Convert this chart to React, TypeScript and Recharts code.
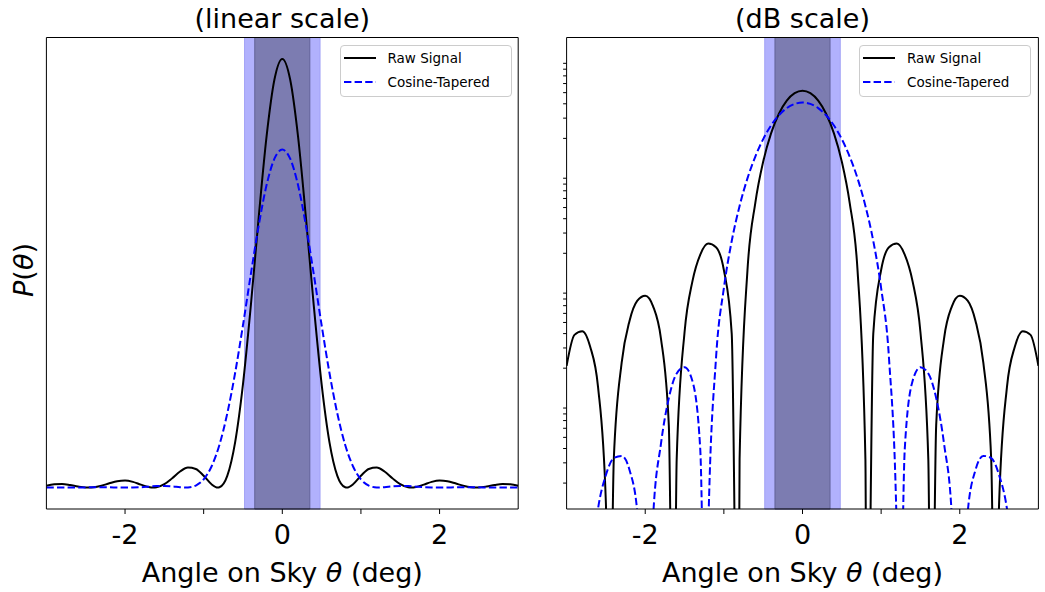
import { LineChart, Line, XAxis, YAxis, ReferenceArea } from "recharts";

const FONT = "'DejaVu Sans', sans-serif";

// Angle on sky (deg) for the raw beam, with its nulls included
const RAW_THETA = [
  -3.0, -2.9, -2.8, -2.7, -2.6, -2.5, -2.46, -2.4, -2.3, -2.2, -2.1, -2.0, -1.9, -1.8, -1.7, -1.64,
  -1.6, -1.5, -1.4, -1.3, -1.2, -1.1, -1.0, -0.9, -0.82, -0.8, -0.7, -0.6, -0.5, -0.4, -0.3, -0.2, -0.1,
  0,
  0.1, 0.2, 0.3, 0.4, 0.5, 0.6, 0.7, 0.8, 0.82, 0.9, 1.0, 1.1, 1.2, 1.3, 1.4, 1.5, 1.6, 1.64, 1.7,
  1.8, 1.9, 2.0, 2.1, 2.2, 2.3, 2.4, 2.46, 2.5, 2.6, 2.7, 2.8, 2.9, 3.0,
];
// Raw beam power P(θ); 1e-6 stands in for a null so the log axis stays finite
const RAW_POWER = [
  0.0021, 0.0039, 0.0042, 0.00307, 0.00137, 1.32e-4, 1e-6, 3.19e-4, 0.00222, 0.00516, 0.00774,
  0.00854, 0.00691, 0.00362, 6.36e-4, 1e-6, 3.23e-4, 0.00411, 0.0114, 0.0195, 0.0243, 0.0226, 0.0143,
  0.00398, 1e-6, 3.24e-4, 0.0142, 0.0549, 0.1255, 0.221, 0.328, 0.426, 0.495,
  0.52,
  0.495, 0.426, 0.328, 0.221, 0.1255, 0.0549, 0.0142, 3.24e-4, 1e-6, 0.00398, 0.0143, 0.0226, 0.0243,
  0.0195, 0.0114, 0.00411, 3.23e-4, 1e-6, 6.36e-4, 0.00362, 0.00691, 0.00854, 0.00774, 0.00516,
  0.00222, 3.19e-4, 1e-6, 1.32e-4, 0.00137, 0.00307, 0.0042, 0.0039, 0.0021,
];

// Angle on sky (deg) for the cosine-tapered beam
const TAPER_THETA = [
  -3.0, -2.9, -2.8, -2.76, -2.7, -2.6, -2.5, -2.4, -2.3, -2.2, -2.1, -2.0, -1.9, -1.8, -1.7, -1.6,
  -1.5, -1.4, -1.3, -1.22, -1.2, -1.1, -1.0, -0.9, -0.8, -0.7, -0.6, -0.5, -0.4, -0.3, -0.2, -0.1,
  0,
  0.1, 0.2, 0.3, 0.4, 0.5, 0.6, 0.7, 0.8, 0.9, 1.0, 1.1, 1.2, 1.22, 1.3, 1.4, 1.5, 1.6, 1.7, 1.8,
  1.9, 2.0, 2.1, 2.2, 2.3, 2.4, 2.5, 2.6, 2.7, 2.76, 2.8, 2.9, 3.0,
];
const TAPER_POWER = [
  3.8e-5, 2.2e-5, 5e-6, 1e-6, 3e-5, 1.2e-4, 2.35e-4, 3.3e-4, 3.45e-4, 2.6e-4, 1.1e-4, 1e-6, 1.0e-4,
  4.4e-4, 0.0011, 0.0018, 0.00204, 0.00155, 3.9e-4, 1e-6, 7e-5, 0.00244, 0.00996, 0.0256, 0.0517,
  0.0898, 0.139, 0.197, 0.259, 0.318, 0.367, 0.399,
  0.41,
  0.399, 0.367, 0.318, 0.259, 0.197, 0.139, 0.0898, 0.0517, 0.0256, 0.00996, 0.00244, 7e-5, 1e-6,
  3.9e-4, 0.00155, 0.00204, 0.0018, 0.0011, 4.4e-4, 1.0e-4, 1e-6, 1.1e-4, 2.6e-4, 3.45e-4, 3.3e-4,
  2.35e-4, 1.2e-4, 3e-5, 1e-6, 5e-6, 2.2e-5, 3.8e-5,
];

const X_TICKS = [-2, -1, 0, 1, 2];
// minor ticks of the log axis (2..9 in every decade)
const LOG_TICKS = [
  0.0002, 0.0003, 0.0004, 0.0005, 0.0006, 0.0007, 0.0008, 0.0009,
  0.002, 0.003, 0.004, 0.005, 0.006, 0.007, 0.008, 0.009,
  0.02, 0.03, 0.04, 0.05, 0.06, 0.07, 0.08, 0.09,
  0.2, 0.3, 0.4, 0.5, 0.6, 0.7, 0.8, 0.9,
];

// shaded windows around boresight (deg)
const OUTER_BAND = [-0.48, 0.48];
const INNER_BAND = [-0.35, 0.35];

const rawData = RAW_THETA.map((theta, i) => ({ theta, p: RAW_POWER[i] }));
const taperData = TAPER_THETA.map((theta, i) => ({ theta, p: TAPER_POWER[i] }));

const SERIES = [
  { key: "raw", name: "Raw Signal", color: "#000000", dash: undefined as string | undefined, data: rawData },
  { key: "taper", name: "Cosine-Tapered", color: "#0000ff", dash: "7.4 3.2", data: taperData },
];

const HEIGHT = 592;
const PLOT_TOP = 37.5;
const PLOT_BOTTOM = 509;

function LegendBox({ left }: { left: number }) {
  return (
    <div
      style={{
        position: "absolute",
        left,
        top: 45,
        width: 172,
        height: 52,
        boxSizing: "border-box",
        border: "1px solid #cccccc",
        borderRadius: 4,
        background: "rgba(255,255,255,0.85)",
        fontFamily: FONT,
        fontSize: 13.5,
        color: "#000",
      }}
    >
      {SERIES.map((s, i) => (
        <div
          key={s.key}
          style={{
            position: "absolute",
            left: 2,
            top: 0.6 + i * 23.4,
            height: 23.4,
            display: "flex",
            alignItems: "center",
          }}
        >
          <svg width={34} height={6}>
            <line x1={1} y1={3} x2={33} y2={3} stroke={s.color} strokeWidth={2} strokeDasharray={s.dash} />
          </svg>
          <span style={{ marginLeft: 11, whiteSpace: "nowrap" }}>{s.name}</span>
        </div>
      ))}
    </div>
  );
}

function BeamPanel({
  width,
  left,
  plotLeft,
  plotRight,
  log,
}: {
  width: number;
  left: number;
  plotLeft: number;
  plotRight: number;
  log: boolean;
}) {
  const axisStroke = { stroke: "#000", strokeWidth: 1 };
  // the frame axes are 1px wide, so the margins sit 1px outside the plot box
  return (
    <div style={{ position: "absolute", left, top: 0 }}>
      <LineChart
        width={width}
        height={HEIGHT}
        margin={{ top: PLOT_TOP - 1, right: width - plotRight - 1, bottom: 0, left: plotLeft - 1 }}
      >
        <ReferenceArea
          x1={OUTER_BAND[0]}
          x2={OUTER_BAND[1]}
          fill="#b1b1fd"
          fillOpacity={1}
          stroke="#a2a2f6"
          strokeWidth={1}
        />
        <ReferenceArea
          x1={INNER_BAND[0]}
          x2={INNER_BAND[1]}
          fill="#7c7cb1"
          fillOpacity={1}
          stroke="#626298"
          strokeWidth={1}
        />
        <XAxis
          dataKey="theta"
          type="number"
          domain={[-3, 3]}
          allowDataOverflow
          ticks={X_TICKS}
          interval={0}
          tickFormatter={(v: number) => (v % 2 === 0 ? String(v) : "")}
          height={HEIGHT - PLOT_BOTTOM}
          tickSize={5}
          tickMargin={11}
          tick={{ fontSize: 27, fill: "#000", fontFamily: FONT }}
          axisLine={axisStroke}
          tickLine={axisStroke}
        />
        <XAxis
          xAxisId="top"
          orientation="top"
          type="number"
          domain={[-3, 3]}
          height={1}
          tick={false}
          tickLine={false}
          axisLine={axisStroke}
        />
        {log ? (
          <YAxis
            type="number"
            scale="log"
            domain={[1.19e-4, 1.51]}
            allowDataOverflow
            ticks={LOG_TICKS}
            interval={0}
            width={1}
            tickSize={3.5}
            tickFormatter={() => ""}
            tick={{ fontSize: 1, fill: "none" }}
            tickLine={axisStroke}
            axisLine={axisStroke}
          />
        ) : (
          <YAxis
            type="number"
            domain={[-0.026, 0.546]}
            allowDataOverflow
            width={1}
            tick={false}
            tickLine={false}
            axisLine={axisStroke}
          />
        )}
        <YAxis
          yAxisId="right"
          orientation="right"
          type="number"
          domain={[0, 1]}
          width={1}
          tick={false}
          tickLine={false}
          axisLine={axisStroke}
        />
        {SERIES.map((s) => (
          <Line
            key={s.key}
            name={s.name}
            data={s.data}
            dataKey="p"
            type="monotone"
            stroke={s.color}
            strokeWidth={2}
            strokeDasharray={s.dash}
            dot={false}
            activeDot={false}
            isAnimationActive={false}
          />
        ))}
      </LineChart>
    </div>
  );
}

export default function App() {
  const textStyle = { fontFamily: FONT, fontSize: 27, fill: "#000" };
  return (
    <div
      style={{
        position: "absolute",
        left: 0,
        top: 0,
        width: 1045,
        height: HEIGHT,
        background: "#fff",
        overflow: "hidden",
      }}
    >
      <BeamPanel width={530} left={0} plotLeft={46.4} plotRight={518.2} log={false} />
      <BeamPanel width={515} left={530} plotLeft={36.6} plotRight={508.4} log />

      <LegendBox left={339.5} />
      <LegendBox left={859} />

      <svg
        width={1045}
        height={HEIGHT}
        style={{ position: "absolute", left: 0, top: 0, pointerEvents: "none" }}
      >
        <text x={282.3} y={27.5} textAnchor="middle" style={textStyle}>
          (linear scale)
        </text>
        <text x={802.5} y={27.5} textAnchor="middle" style={textStyle}>
          (dB scale)
        </text>
        <text x={282.3} y={582} textAnchor="middle" style={textStyle}>
          Angle on Sky <tspan fontStyle="italic">θ</tspan> (deg)
        </text>
        <text x={802.5} y={582} textAnchor="middle" style={textStyle}>
          Angle on Sky <tspan fontStyle="italic">θ</tspan> (deg)
        </text>
        <text transform="translate(33,270) rotate(-90)" textAnchor="middle" style={textStyle}>
          <tspan fontStyle="italic">P</tspan>(<tspan fontStyle="italic">θ</tspan>)
        </text>
      </svg>
    </div>
  );
}
